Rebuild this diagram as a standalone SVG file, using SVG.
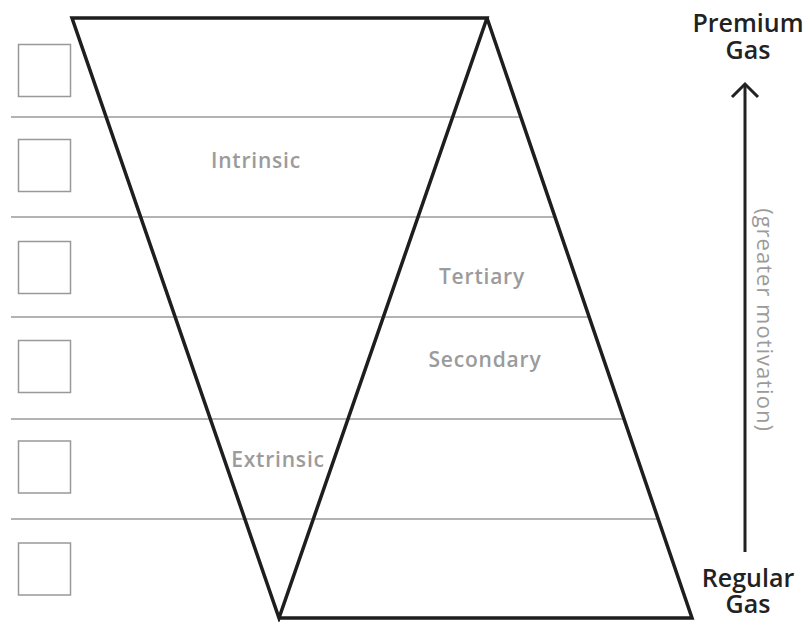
<svg xmlns="http://www.w3.org/2000/svg" width="811" height="622" viewBox="0 0 811 622">
<defs>
<style>
.thin{stroke:#9a9a9a;stroke-width:1.5;fill:none}
.box{stroke:#999;stroke-width:1.5;fill:#fff}
.thick{stroke:#1e1e1e;stroke-width:3.5;fill:none;stroke-linejoin:miter}
.lbl{font-family:"Open Sans","Liberation Sans",sans-serif;font-weight:600;fill:#9b9b9b;font-size:21px;letter-spacing:0.8px;text-anchor:middle}
.side{font-family:"Open Sans","Liberation Sans",sans-serif;font-weight:400;fill:#9b9b9b;font-size:22px;letter-spacing:1px;text-anchor:middle}
.end{font-family:"Open Sans","Liberation Sans",sans-serif;font-weight:600;fill:#222;font-size:25px;text-anchor:middle}
</style>
</defs>
<rect width="811" height="622" fill="#fff"/>
<g id="rows">
<line class="thin" x1="11" y1="117" x2="521" y2="117"/>
<line class="thin" x1="11" y1="217" x2="555" y2="217"/>
<line class="thin" x1="11" y1="317" x2="589" y2="317"/>
<line class="thin" x1="11" y1="419" x2="624" y2="419"/>
<line class="thin" x1="11" y1="519" x2="658" y2="519"/>
</g>
<g id="boxes">
<rect class="box" x="18.5" y="44.5" width="52" height="52"/>
<rect class="box" x="18.5" y="139.5" width="52" height="52"/>
<rect class="box" x="18.5" y="241.5" width="52" height="52"/>
<rect class="box" x="18.5" y="340.5" width="52" height="52"/>
<rect class="box" x="18.5" y="441" width="52" height="52"/>
<rect class="box" x="18.5" y="543" width="52" height="52"/>
</g>
<g id="shape">
<path class="thick" d="M72,18 L487,18 L279,618 Z"/>
<path class="thick" d="M487,18 L692,618 L279,618"/>
</g>
<g id="labels">
<text class="lbl" x="256" y="168">Intrinsic</text>
<text class="lbl" x="482" y="284">Tertiary</text>
<text class="lbl" x="485" y="367">Secondary</text>
<text class="lbl" x="278" y="467">Extrinsic</text>
</g>
<g id="connectors">
<line x1="745" y1="552" x2="745" y2="85" stroke="#222" stroke-width="3"/>
<polyline points="732,97 745,84 758,97" fill="none" stroke="#222" stroke-width="3"/>
</g>
<g id="premium">
<text class="end"><tspan x="748" y="32">Premium</tspan><tspan x="748" y="59">Gas</tspan></text>
</g>
<g id="regular">
<text class="end"><tspan x="748" y="587">Regular</tspan><tspan x="748" y="613">Gas</tspan></text>
</g>
<g id="axis-label">
<text class="side" transform="translate(757,320) rotate(90)" x="0" y="0">(greater motivation)</text>
</g>
</svg>
